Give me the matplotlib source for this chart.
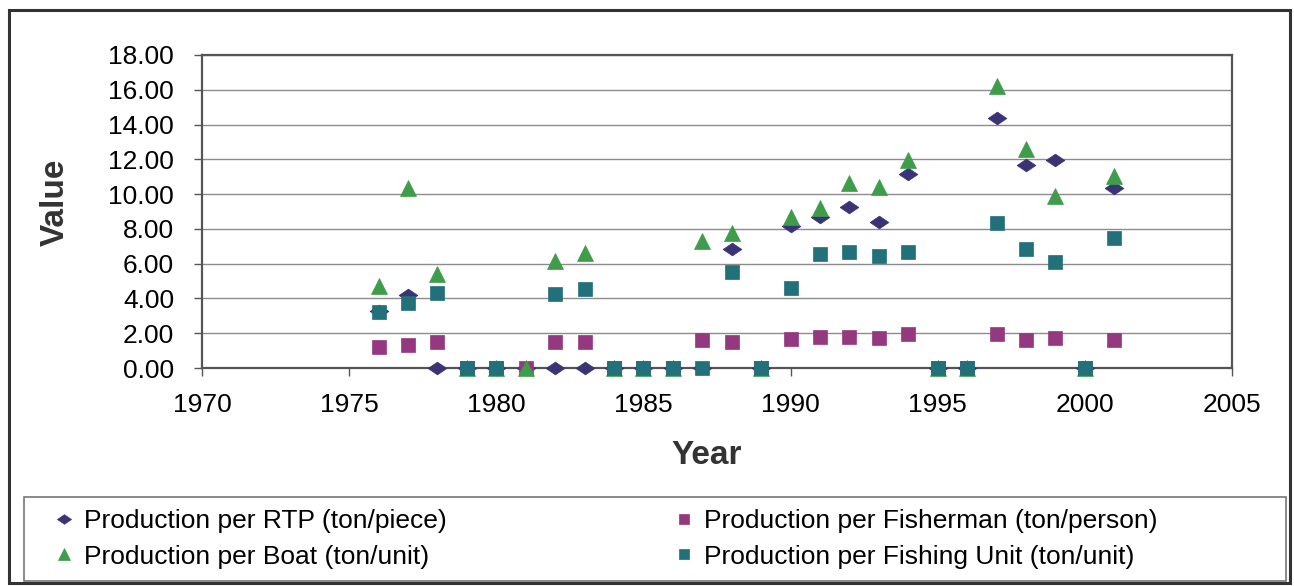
import matplotlib.pyplot as plt
import numpy as np
from matplotlib.patches import Rectangle

plt.rcParams["font.family"] = ["Liberation Sans", "DejaVu Sans"]

years = list(range(1976, 2002))
nan = np.nan

rtp = [3.30, 4.22, 0, 0, 0, 0, 0, 0, 0, 0, 0, 0, 6.83, 0, 8.18, 8.66, 9.24,
       8.41, 11.17, 0, 0, 14.35, 11.69, 11.94, 0, 10.34]
fisherman = [1.20, 1.33, 1.47, 0, 0, 0, 1.47, 1.47, 0, 0, 0, 1.62, 1.52, 0,
             1.66, 1.81, 1.81, 1.72, 1.95, 0, 0, 1.97, 1.62, 1.75, 0, 1.62]
boat = [4.70, 10.36, 5.38, 0, 0, 0, 6.15, 6.64, 0, 0, 0, 7.31, 7.79, 0, 8.66,
        9.18, 10.65, 10.40, 11.94, 0, 0, 16.19, 12.58, 9.91, 0, 11.04]
fishing_unit = [3.20, 3.74, 4.32, 0, 0, nan, 4.28, 4.55, 0, 0, 0, 0, 5.54, 0,
                4.61, 6.54, 6.67, 6.44, 6.69, 0, 0, 8.33, 6.87, 6.09, 0, 7.45]

labels = [
    "Production per RTP (ton/piece)",
    "Production per Fisherman (ton/person)",
    "Production per Boat (ton/unit)",
    "Production per Fishing Unit (ton/unit)",
]

W, H = 1294, 586
DIAMOND = [(-1, 0), (0, 0.68), (1, 0), (0, -0.68), (-1, 0)]


def px(x0, y0, x1, y1):
    # pixel box (top-left origin) -> figure fraction rect
    return [x0 / W, 1 - y1 / H, (x1 - x0) / W, (y1 - y0) / H]


def main():
    fig = plt.figure(figsize=(W / 100, H / 100), dpi=100)
    ax = fig.add_axes(px(202, 55, 1232, 368))

    series = [
        (rtp, DIAMOND, 13.5, "#3a3477"),
        (fisherman, "s", 10, "#94397f"),
        (boat, "^", 11.5, "#3f9c4a"),
        (fishing_unit, "s", 10.5, "#22707a"),
    ]
    handles = []
    for (vals, m, ms, c), lab in zip(series, labels):
        h, = ax.plot(years, vals, ls="none", marker=m, ms=ms, color=c,
                     mec=c, mew=0.5, label=lab, clip_on=False, zorder=3)
        handles.append(h)

    ax.set_xlim(1970, 2005)
    ax.set_ylim(0, 18)
    ax.set_xticks(range(1970, 2006, 5))
    ax.set_yticks(np.arange(0, 18.1, 2))
    ax.yaxis.set_major_formatter(plt.FormatStrFormatter("%.2f"))
    ax.tick_params(labelsize=19, length=6, width=1, color="#555555")
    ax.tick_params(axis="x", pad=12)
    ax.tick_params(axis="y", pad=14)
    ax.grid(axis="y", color="#8c8c8c", lw=1)
    ax.set_axisbelow(True)
    for s in ax.spines.values():
        s.set_color("#555555")
        s.set_linewidth(1.6)

    ax.set_xlabel("Year", fontsize=24, fontweight="bold", color="#333333")
    ax.set_ylabel("Value", fontsize=24, fontweight="bold", color="#333333")
    ax.xaxis.set_label_coords(0.49, -0.23)
    ax.yaxis.set_label_coords(-0.127, 0.53)

    # outer chart border and legend box
    fig.patches.append(Rectangle((9 / W, 1 - 583 / H), 1281 / W, 573 / H,
                                 transform=fig.transFigure, fill=False,
                                 ec="#333333", lw=2.2))
    fig.patches.append(Rectangle((24 / W, 1 - 581 / H), 1262 / W, 84 / H,
                                 transform=fig.transFigure, fill=False,
                                 ec="#777777", lw=1.2))

    order = [0, 2, 1, 3]
    fig.legend([handles[i] for i in order], [labels[i] for i in order],
               loc="upper left", bbox_to_anchor=(30 / W, 1 - 485 / H), ncol=2,
               frameon=False, fontsize=19, markerscale=0.75, handlelength=0.8,
               handletextpad=0.35, columnspacing=8.6, labelspacing=0.45)

    fig.savefig("out.png", dpi=100)
    plt.close(fig)


if __name__ == "__main__":
    main()
